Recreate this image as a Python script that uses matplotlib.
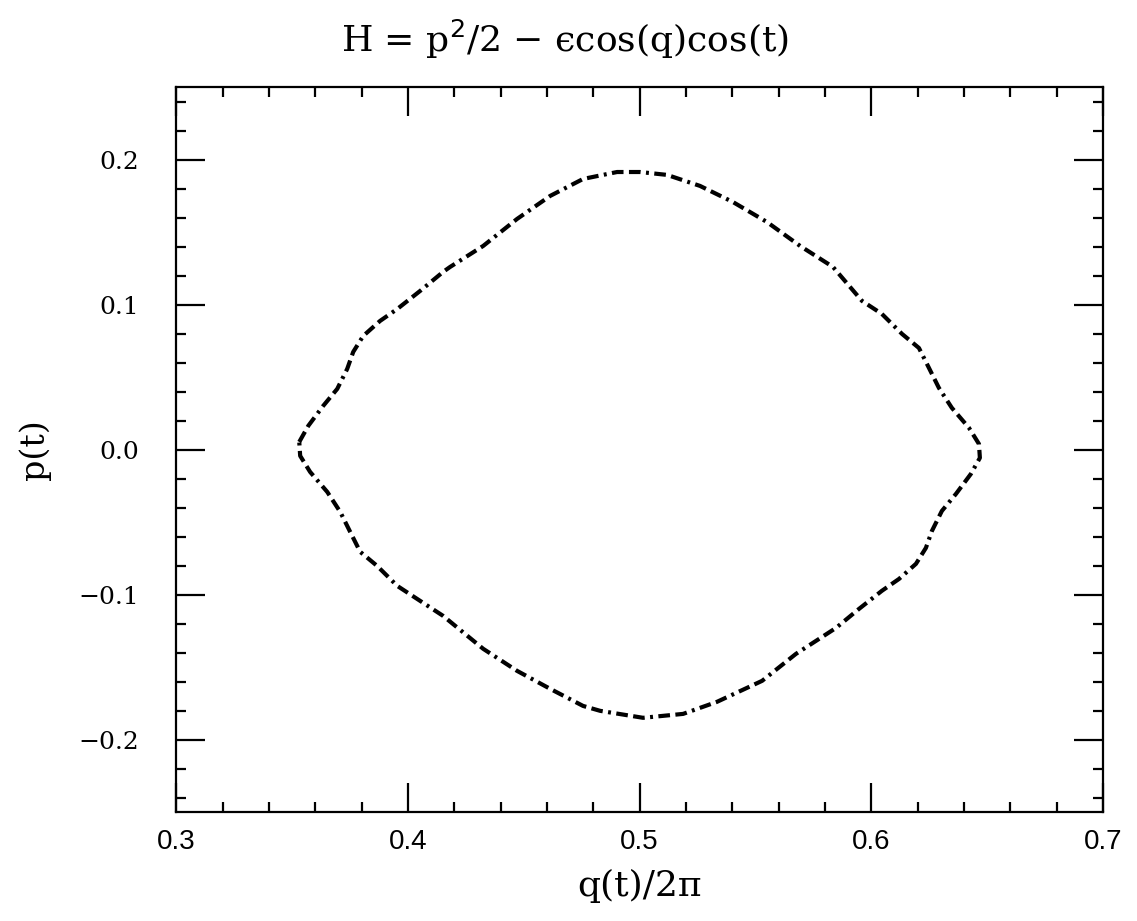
import numpy as np
import matplotlib
matplotlib.use('Agg')
import matplotlib.pyplot as plt
from matplotlib.ticker import MultipleLocator, FuncFormatter

# orbit points, going clockwise from the left tip
q_vals = [0.3531, 0.3570, 0.3634, 0.3695, 0.3738, 0.3764, 0.3807, 0.3880, 0.3954, 0.4053,
          0.4152, 0.4182, 0.4325, 0.4471, 0.4614, 0.4756, 0.4903, 0.5002, 0.5119, 0.5261,
          0.5403, 0.5550, 0.5693, 0.5835, 0.5960, 0.6046, 0.6133, 0.6206, 0.6249,
          0.6292, 0.6348, 0.6422, 0.6465, 0.6469, 0.6430, 0.6366, 0.6305, 0.6262, 0.6236,
          0.6193, 0.6120, 0.6046, 0.5947, 0.5848, 0.5675, 0.5529, 0.5334, 0.5188, 0.5015,
          0.4830, 0.4756, 0.4614, 0.4471, 0.4325, 0.4152, 0.4040, 0.3954, 0.3867, 0.3794,
          0.3751, 0.3708, 0.3652, 0.3578, 0.3535, 0.3531]
p_vals = [0.0055, 0.0166, 0.0303, 0.0421, 0.0559, 0.0676, 0.0786, 0.0890, 0.0972, 0.1097,
          0.1228, 0.1262, 0.1407, 0.1593, 0.1752, 0.1869, 0.1917, 0.1917, 0.1897, 0.1821,
          0.1710, 0.1572, 0.1407, 0.1262, 0.1028, 0.0938, 0.0800, 0.0703, 0.0566,
          0.0428, 0.0290, 0.0152, 0.0041, -0.0055, -0.0166, -0.0303, -0.0421, -0.0559, -0.0676,
          -0.0786, -0.0890, -0.0972, -0.1097, -0.1228, -0.1407, -0.1593, -0.1738, -0.1821, -0.1848,
          -0.1800, -0.1766, -0.1648, -0.1524, -0.1372, -0.1145, -0.1028, -0.0938, -0.0800, -0.0703,
          -0.0566, -0.0428, -0.0290, -0.0152, -0.0041, 0.0055]

x_ticks = [0.3, 0.4, 0.5, 0.6, 0.7]
y_ticks = [-0.2, -0.1, 0.0, 0.1, 0.2]


def fmt(v, pos):
    s = f"{v:.1f}"
    return s.replace('-', '\u2212')


fig = plt.figure(figsize=(11.37, 9.21), dpi=100)
fig.patch.set_facecolor('white')
ax = fig.add_axes([0.155, 0.118, 0.815, 0.787])

ax.plot(q_vals, p_vals, color='black', linewidth=3.0,
        linestyle=(0, (2.8, 1.3, 2.8, 1.3, 0.7, 1.3)))

ax.set_xlim(0.3, 0.7)
ax.set_ylim(-0.25, 0.25)
ax.set_xticks(x_ticks)
ax.set_yticks(y_ticks)
ax.xaxis.set_minor_locator(MultipleLocator(0.02))
ax.yaxis.set_minor_locator(MultipleLocator(0.02))
ax.xaxis.set_major_formatter(FuncFormatter(fmt))
ax.yaxis.set_major_formatter(FuncFormatter(fmt))

ax.tick_params(which='both', direction='in', top=True, right=True, color='black', width=1.6)
ax.tick_params(which='major', length=21)
ax.tick_params(which='minor', length=7)
ax.tick_params(axis='x', which='major', pad=12, labelsize=20, labelfontfamily='Liberation Sans')
ax.tick_params(axis='y', which='major', pad=27, labelsize=18, labelfontfamily='DejaVu Serif')
for s in ax.spines.values():
    s.set_linewidth(1.6)

ax.set_xlabel('q(t)/2\u03c0', fontsize=26, family='DejaVu Serif', labelpad=10)
ax.set_ylabel('p(t)', fontsize=24, family='DejaVu Serif')
ax.yaxis.set_label_coords(-0.135, 0.5)
fig.text(0.497, 0.957, 'H = p$^2$/2 \u2212 \u03f5cos(q)cos(t)', fontsize=26,
         family='DejaVu Serif', ha='center', va='center')

plt.savefig('out.png', dpi=100)
